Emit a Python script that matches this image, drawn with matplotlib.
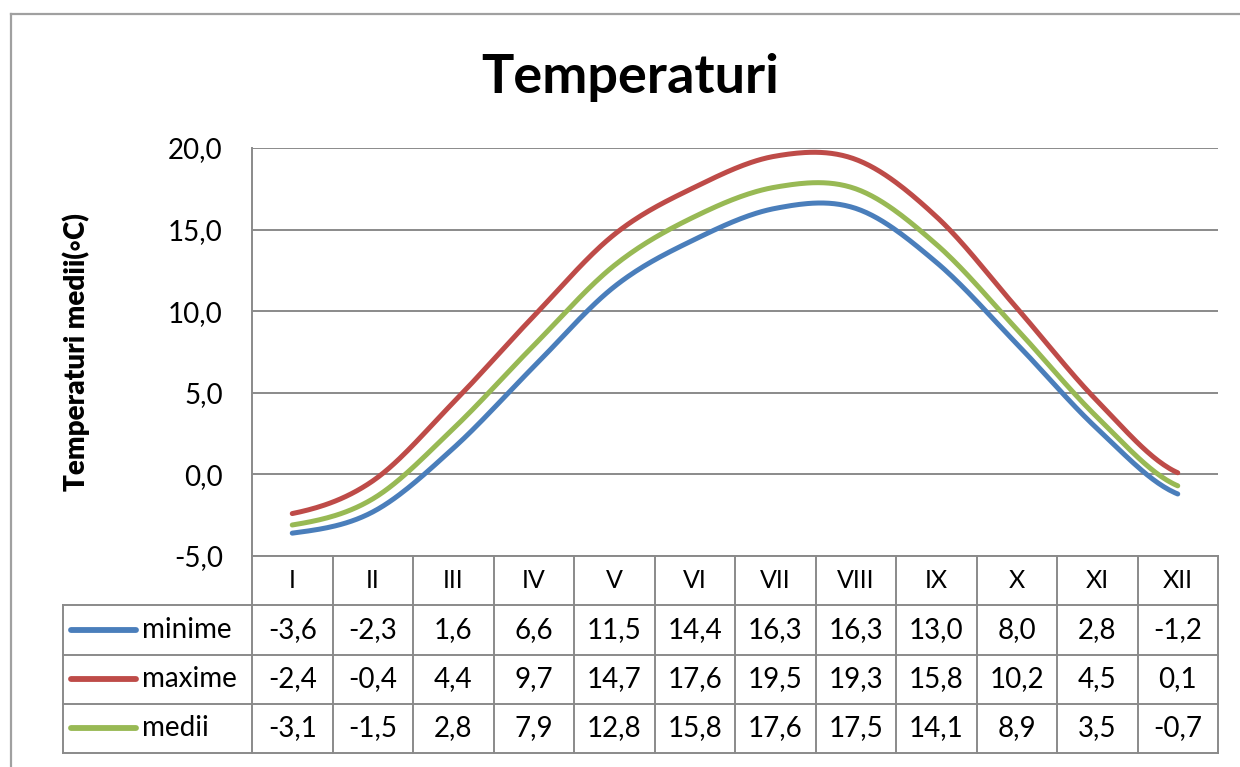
import numpy as np
import matplotlib
matplotlib.use("Agg")
import matplotlib.pyplot as plt

plt.rcParams['font.family'] = ['Lato', 'DejaVu Sans']

# date
luni = ['I', 'II', 'III', 'IV', 'V', 'VI', 'VII', 'VIII', 'IX', 'X', 'XI', 'XII']
minime = [-3.6, -2.3, 1.6, 6.6, 11.5, 14.4, 16.3, 16.3, 13.0, 8.0, 2.8, -1.2]
maxime = [-2.4, -0.4, 4.4, 9.7, 14.7, 17.6, 19.5, 19.3, 15.8, 10.2, 4.5, 0.1]
medii = [-3.1, -1.5, 2.8, 7.9, 12.8, 15.8, 17.6, 17.5, 14.1, 8.9, 3.5, -0.7]

serii = [('minime', minime, '#4A7EBB'),
         ('maxime', maxime, '#BE4B48'),
         ('medii', medii, '#98B954')]

W, H = 1240, 767
GRID = '#8a8a8a'


def netezire(y, n=30):
    # curba neteda tip Excel (Catmull-Rom)
    y = np.asarray(y, dtype=float)
    p = np.concatenate([[y[0]], y, [y[-1]]])
    xs, ys = [], []
    for i in range(len(y) - 1):
        p0, p1, p2, p3 = p[i], p[i + 1], p[i + 2], p[i + 3]
        m1 = (p2 - p0) / 2
        m2 = (p3 - p1) / 2
        t = np.linspace(0, 1, n, endpoint=(i == len(y) - 2))
        h00 = 2 * t**3 - 3 * t**2 + 1
        h10 = t**3 - 2 * t**2 + t
        h01 = -2 * t**3 + 3 * t**2
        h11 = t**3 - t**2
        xs.append(i + t)
        ys.append(h00 * p1 + h10 * m1 + h01 * p2 + h11 * m2)
    return np.concatenate(xs), np.concatenate(ys)


fig = plt.figure(figsize=(W / 100, H / 100), dpi=100)

# chenar exterior al graficului
fig.add_artist(plt.Line2D([11 / W, 11 / W], [0, 1 - 14 / H], color='#a0a0a0', lw=1.6))
fig.add_artist(plt.Line2D([11 / W, 1], [1 - 14 / H, 1 - 14 / H], color='#a0a0a0', lw=1.6))

ax_l, ax_r, ax_t, ax_b = 252, 1218, 148, 556
ax = fig.add_axes([ax_l / W, 1 - ax_b / H, (ax_r - ax_l) / W, (ax_b - ax_t) / H])

x = np.arange(len(luni))
for nume, vals, col in serii:
    xs, ys = netezire(vals)
    ax.plot(xs, ys, color=col, lw=3.6, solid_capstyle='round')

ax.set_xlim(-0.5, len(luni) - 0.5)
ax.set_ylim(-5, 20)
ax.set_yticks(np.arange(-5, 21, 5))
ax.set_yticklabels([f'{v:.1f}'.replace('.', ',') for v in np.arange(-5, 21, 5)], fontsize=20)
ax.set_xticks([])
ax.tick_params(axis='y', length=0, pad=21)
ax.grid(axis='y', color=GRID, lw=1.4)
for s in ['top', 'right', 'bottom']:
    ax.spines[s].set_visible(False)
ax.spines['left'].set_color(GRID)
ax.spines['left'].set_linewidth(1.4)

ax.set_ylabel('Temperaturi medii(◦C)', fontsize=20, fontweight='heavy', labelpad=56)

fig.text(630 / W, 1 - 78 / H, 'Temperaturi', fontsize=39, fontweight='bold',
         ha='center', va='center')

# tabel de date
tb_l, tb_b = 63, 753
col_w = (ax_r - ax_l) / len(luni)
lab_w = (ax_l - tb_l) / col_w
tx = fig.add_axes([tb_l / W, 1 - tb_b / H, (ax_r - tb_l) / W, (tb_b - ax_b) / H])
tx.set_xlim(-0.5 - lab_w, len(luni) - 0.5)
tx.set_ylim(4, 0)
tx.axis('off')

left = -0.5 - lab_w
right = len(luni) - 0.5
kw = dict(color=GRID, lw=1.4, solid_capstyle='projecting', clip_on=False)
# linii orizontale
tx.plot([-0.5, right], [0, 0], **kw)
for r in range(1, 5):
    tx.plot([left, right], [r, r], **kw)
# linii verticale
for c in range(len(luni) + 1):
    tx.plot([c - 0.5, c - 0.5], [0, 4], **kw)
tx.plot([left, left], [1, 4], **kw)

for i, m in enumerate(luni):
    tx.text(i, 0.5, m, ha='center', va='center', fontsize=18)

for r, (nume, vals, col) in enumerate(serii, start=1):
    tx.plot([left + 8 / col_w, left + 73 / col_w], [r + 0.5, r + 0.5], color=col,
            lw=4.2, solid_capstyle='round')
    tx.text(left + 79 / col_w, r + 0.5, nume, ha='left', va='center', fontsize=20)
    for i, v in enumerate(vals):
        tx.text(i, r + 0.5, f'{v:.1f}'.replace('.', ','), ha='center', va='center',
                fontsize=20)

fig.savefig('out.png', dpi=100)
